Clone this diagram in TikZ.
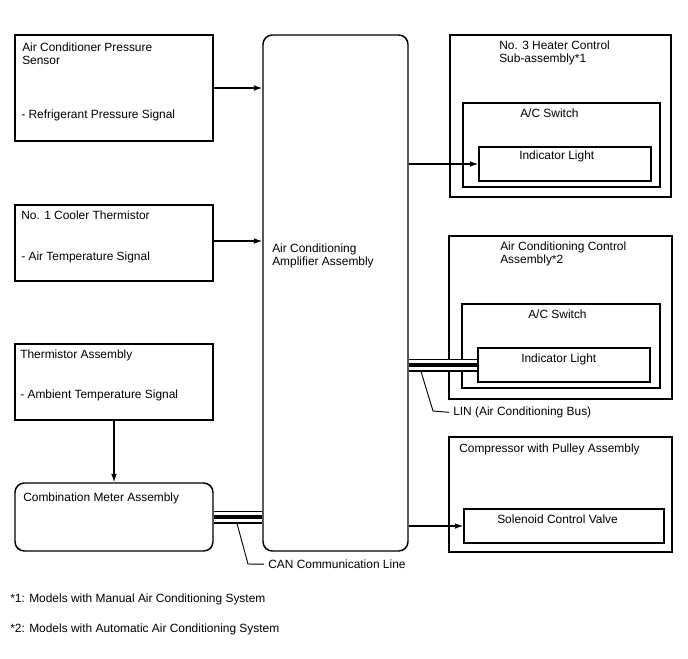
\documentclass[tikz,border=0pt]{standalone}
\usepackage{fontspec}
\setmainfont{Liberation Sans}
\usetikzlibrary{positioning, arrows.meta, fit, calc}
\tikzset{
  unit/.style   = {rectangle, draw=black, line width=1.1pt, inner sep=0pt},
  ecu/.style    = {unit, rounded corners=7pt},
  lbl/.style    = {anchor=north west, inner sep=0pt, align=left,
                   font=\fontsize{8.95}{10.1}\selectfont},
  ar/.style     = {-{Latex[length=2.2mm,width=1.5mm]}, line width=0.9pt},
  leader/.style = {line width=0.7pt},
  bus/.style    = {line width=2.6pt, preaction={draw, line width=9.75pt},
                   preaction={draw, white, line width=7.5pt}},
}
\begin{document}
\begin{tikzpicture}[x=0.75pt, y=-0.75pt]
  \useasboundingbox (0,0) rectangle (688,658);

  % sensors
  \node[unit, fit={(15,35) (213,141)}] (press) {};
  \node[unit, fit={(15,205) (213,281)}] (cooler) {};
  \node[unit, fit={(15,344) (213,420)}] (therm) {};
  \node[ecu, fit={(15,483) (213,551)}] (meter) {};

  \node[lbl] (presstxt) at (22,42.5) {Air Conditioner Pressure\\Sensor};
  \node[lbl] (presssig) at (21,109.5) {- Refrigerant Pressure Signal};
  \node[lbl] (coolertxt) at (21,210.5) {No. 1 Cooler Thermistor};
  \node[lbl] (coolersig) at (21,252) {- Air Temperature Signal};
  \node[lbl] (thermtxt) at (20,349.5) {Thermistor Assembly};
  \node[lbl] (thermsig) at (20,389.5) {- Ambient Temperature Signal};
  \node[lbl] (metertxt) at (23,492.5) {Combination Meter Assembly};

  % amplifier
  \node[ecu, fit={(263,35) (408,551)}] (amp) {};
  \node[lbl] (amptxt) at (272,243.5) {Air Conditioning\\Amplifier Assembly};

  % controls and actuator
  \node[unit, fit={(450,35) (671,197)}] (heater) {};
  \node[unit, fit={(463,103) (660,187)}] (switchA) {};
  \node[unit, fit={(479,147) (651,181)}] (lightA) {};
  \node[unit, fit={(449,236) (672,399)}] (acctl) {};
  \node[unit, fit={(462,304) (660,388)}] (switchB) {};
  \node[unit, fit={(478,348) (650,382)}] (lightB) {};
  \node[unit, fit={(449,437) (672,552)}] (comp) {};
  \node[unit, fit={(464,509) (664,543)}] (valve) {};

  \node[lbl] (heatertxt) at (499,40.5) {No. 3 Heater Control\\Sub-assembly*1};
  \node[lbl] (switchAtxt) at (520,108.5) {A/C Switch};
  \node[lbl] (lightAtxt) at (519,150.5) {Indicator Light};
  \node[lbl] (acctltxt) at (500,241.5) {Air Conditioning Control\\Assembly*2};
  \node[lbl] (switchBtxt) at (528,309.5) {A/C Switch};
  \node[lbl] (lightBtxt) at (521,353.5) {Indicator Light};
  \node[lbl] (comptxt) at (459,443.5) {Compressor with Pulley Assembly};
  \node[lbl] (valvetxt) at (497,514.5) {Solenoid Control Valve};

  % signals
  \draw[ar] (press.east) -- (press.east -| amp.west);
  \draw[ar] ([yshift=1.5pt]cooler.east) -- ([yshift=1.5pt]cooler.east -| amp.west);
  \draw[ar] (therm.south) -- (meter.north);
  \draw[ar] (lightA.west -| amp.east) -- (lightA.west);
  \draw[ar] (valve.west -| amp.east) -- (valve.west);

  % buses
  \draw[bus] ([xshift=0.55pt]meter.east) -- ([xshift=-0.55pt]meter.east -| amp.west);
  \draw[bus] ([xshift=0.55pt]lightB.west -| amp.east) -- ([xshift=-0.55pt]lightB.west);

  \coordinate (cantap) at (237,523.5);
  \coordinate (lintap) at (421,371.5);
  \node[lbl] (canlbl) at (268,559.5) {CAN Communication Line};
  \node[lbl] (linlbl) at (453,406.5) {LIN (Air Conditioning Bus)};
  \draw[leader] (cantap) -- (248,564) -- ([xshift=-3pt]canlbl.west);
  \draw[leader] (lintap) -- (433,411) -- ([xshift=-3pt]linlbl.west);

  % notes
  \node[lbl] (note1) at (10,593.5) {*1: Models with Manual Air Conditioning System};
  \node[lbl] (note2) at (10,623.5) {*2: Models with Automatic Air Conditioning System};
\end{tikzpicture}
\end{document}
